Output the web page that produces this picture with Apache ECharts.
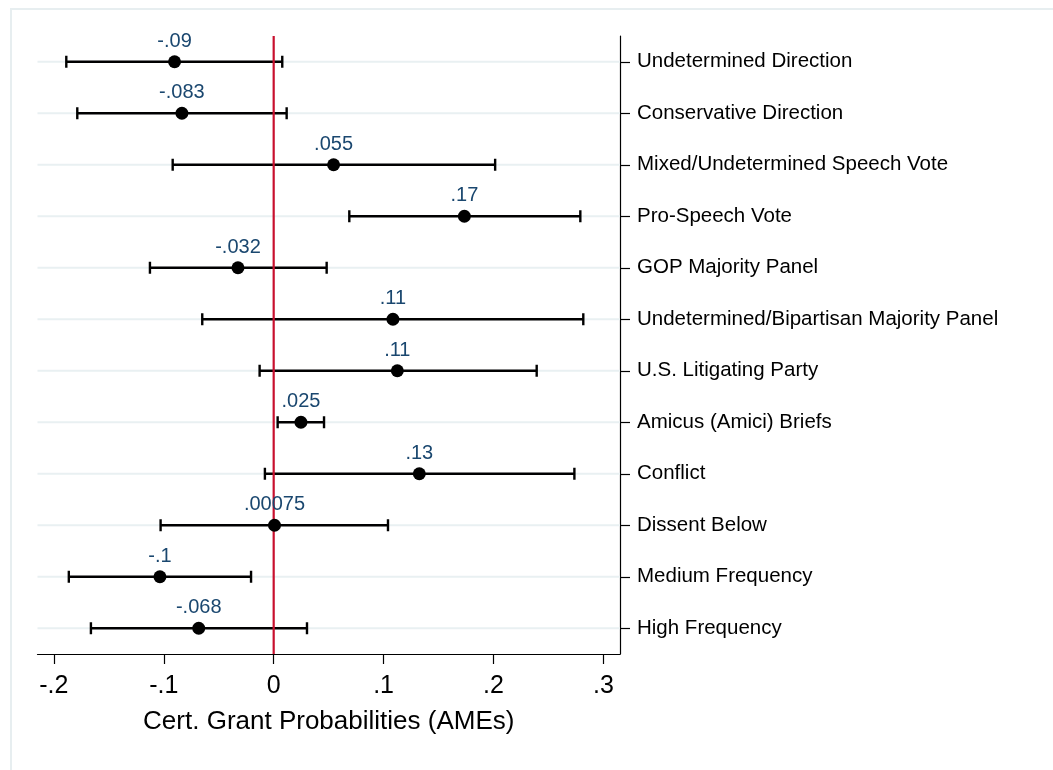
<!DOCTYPE html>
<html>
<head>
<meta charset="utf-8">
<script src="https://cdn.jsdelivr.net/npm/echarts@6/dist/echarts.min.js"></script>
<style>
html,body{margin:0;padding:0;background:#fff;}
#chart{width:1053px;height:770px;}
</style>
</head>
<body>
<div id="chart"></div>
<script>
const categories = [
  "Undetermined Direction",
  "Conservative Direction",
  "Mixed/Undetermined Speech Vote",
  "Pro-Speech Vote",
  "GOP Majority Panel",
  "Undetermined/Bipartisan Majority Panel",
  "U.S. Litigating Party",
  "Amicus (Amici) Briefs",
  "Conflict",
  "Dissent Below",
  "Medium Frequency",
  "High Frequency"
];
const estimates = [-0.0902, -0.0835, 0.0545, 0.1735, -0.0325, 0.1085, 0.1125, 0.0248, 0.1325, 0.00075, -0.1035, -0.0682];
const lowerCI   = [-0.1887, -0.1787, -0.0919, 0.0688, -0.1126, -0.0650, -0.0128, 0.0036, -0.0080, -0.1029, -0.1864, -0.1663];
const upperCI   = [0.0078, 0.0118, 0.2015, 0.2790, 0.0482, 0.2817, 0.2393, 0.0458, 0.2736, 0.1040, -0.0206, 0.0303];
const valueLabels = ["-.09", "-.083", ".055", ".17", "-.032", ".11", ".11", ".025", ".13", ".00075", "-.1", "-.068"];
const xTicks = [-0.2, -0.1, 0, 0.1, 0.2, 0.3];
const xTickLabels = ["-.2", "-.1", "0", ".1", ".2", ".3"];
const referenceLine = [0];

const FONT = "'Liberation Sans', Arial, sans-serif";
const chart = echarts.init(document.getElementById('chart'), null, {renderer: 'canvas'});

const option = {
  backgroundColor: '#ffffff',
  animation: false,
  graphic: [{
    type: 'rect', left: 10, top: 8, z: -10,
    shape: {width: 1100, height: 800},
    style: {fill: '#ffffff', stroke: '#e7eef0', lineWidth: 2}
  }],
  grid: {left: 37.5, right: 433, top: 36, bottom: 116, containLabel: false},
  xAxis: {
    type: 'value', min: -0.2149, max: 0.3151,
    axisLine: {show: true, onZero: false, lineStyle: {color: '#000', width: 1.2}},
    axisTick: {show: true, length: 10, customValues: xTicks, lineStyle: {color: '#000', width: 1.2}},
    axisLabel: {
      show: true, customValues: xTicks, fontSize: 25, color: '#000', fontFamily: FONT, margin: 20,
      formatter: function (v) {
        for (let i = 0; i < xTicks.length; i++) if (Math.abs(xTicks[i] - v) < 1e-9) return xTickLabels[i];
        return '';
      }
    },
    splitLine: {show: false},
    name: 'Cert. Grant Probabilities (AMEs)', nameLocation: 'middle', nameGap: 55,
    nameTextStyle: {fontSize: 26, color: '#000', fontFamily: FONT}
  },
  yAxis: {
    type: 'category', data: categories, inverse: true, position: 'right',
    axisLine: {show: true, onZero: false, lineStyle: {color: '#000', width: 1.2}},
    axisTick: {show: true, alignWithLabel: true, length: 10, lineStyle: {color: '#000', width: 1.2}},
    axisLabel: {fontSize: 20.5, color: '#000', fontFamily: FONT, margin: 17},
    splitLine: {show: false}
  },
  series: [
    {
      type: 'custom', name: 'grid', z: 1, silent: true,
      data: categories.map((c, i) => [i]),
      encode: {y: 0},
      renderItem: function (params, api) {
        const cs = params.coordSys;
        const y = api.coord([0, api.value(0)])[1];
        return {type: 'line', shape: {x1: cs.x, y1: y, x2: cs.x + cs.width, y2: y},
          style: {stroke: '#e9f0f2', lineWidth: 2}};
      }
    },
    {
      type: 'custom', name: 'ci', z: 2, silent: true,
      data: categories.map((c, i) => [lowerCI[i], upperCI[i], i]),
      encode: {x: [0, 1], y: 2},
      renderItem: function (params, api) {
        const p1 = api.coord([api.value(0), api.value(2)]);
        const p2 = api.coord([api.value(1), api.value(2)]);
        const h = 6;
        const st = {stroke: '#000', lineWidth: 2.4};
        return {type: 'group', children: [
          {type: 'line', shape: {x1: p1[0], y1: p1[1], x2: p2[0], y2: p2[1]}, style: st},
          {type: 'line', shape: {x1: p1[0], y1: p1[1] - h, x2: p1[0], y2: p1[1] + h}, style: st},
          {type: 'line', shape: {x1: p2[0], y1: p2[1] - h, x2: p2[0], y2: p2[1] + h}, style: st}
        ]};
      }
    },
    {
      type: 'custom', name: 'ref', z: 3, silent: true,
      data: referenceLine.map(v => [v]),
      encode: {x: 0},
      renderItem: function (params, api) {
        const cs = params.coordSys;
        const x = api.coord([api.value(0), 0])[0];
        return {type: 'line', shape: {x1: x, y1: cs.y, x2: x, y2: cs.y + cs.height},
          style: {stroke: '#c8102e', lineWidth: 2.2}};
      }
    },
    {
      type: 'scatter', name: 'est', z: 4, silent: true,
      symbol: 'circle', symbolSize: 13,
      itemStyle: {color: '#000', opacity: 1},
      data: categories.map((c, i) => [estimates[i], i]),
      label: {
        show: true, position: 'top', distance: 4, fontSize: 20, color: '#1a476f', fontFamily: FONT,
        formatter: function (p) { return valueLabels[p.dataIndex]; }
      }
    }
  ]
};
chart.setOption(option);
</script>
</body>
</html>
